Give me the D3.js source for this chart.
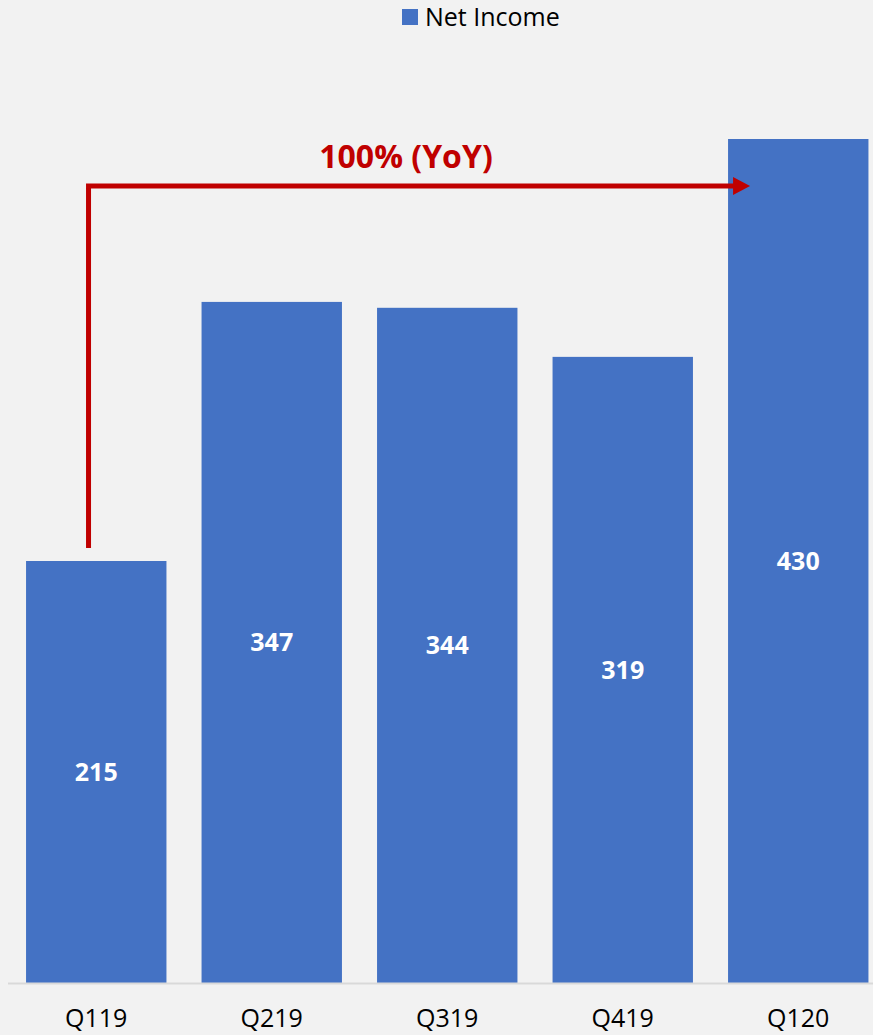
<!DOCTYPE html>
<html>
<head>
<meta charset="utf-8">
<script src="https://cdn.jsdelivr.net/npm/d3@7"></script>
<style>
  html, body { margin: 0; padding: 0; background: #f2f2f2; }
  svg { display: block; font-family: "Open Sans", sans-serif; }
</style>
</head>
<body>
<svg id="svg"></svg>
<script>
// quarters and net income values
const quarters = ["Q119", "Q219", "Q319", "Q419", "Q120"];
const netIncome = [215, 347, 344, 319, 430];
const seriesName = "Net Income";
const growthLabel = "100% (YoY)";

const size = { width: 873, height: 1035 };
const svg = d3.select("#svg").attr("width", size.width).attr("height", size.height);

const baseY = 983;
const x = d3.scaleBand()
    .domain(quarters)
    .range([8.5, 886])
    .paddingInner(0.2)
    .paddingOuter(0.1);
const y = d3.scaleLinear()
    .domain([0, 430])
    .range([baseY, 139]);

const blue = "#4472c4";
const red = "#c00000";

svg.append("rect")
    .attr("width", size.width)
    .attr("height", size.height)
    .attr("fill", "#f2f2f2");

// bars
svg.selectAll("rect.bar")
    .data(netIncome)
    .join("rect")
    .attr("class", "bar")
    .attr("x", (d, i) => x(quarters[i]))
    .attr("y", d => y(d))
    .attr("width", x.bandwidth())
    .attr("height", d => baseY - y(d))
    .attr("fill", blue);

// value labels
svg.selectAll("text.val")
    .data(netIncome)
    .join("text")
    .attr("class", "val")
    .attr("x", (d, i) => x(quarters[i]) + x.bandwidth() / 2)
    .attr("y", d => (y(d) + baseY) / 2 + 9)
    .attr("text-anchor", "middle")
    .attr("font-size", 25)
    .attr("font-weight", "bold")
    .attr("fill", "#ffffff")
    .text(d => d);

// x axis
const axis = svg.append("g")
    .attr("transform", `translate(0,${baseY})`)
    .call(d3.axisBottom(x).tickSize(0).tickPadding(26));
axis.select(".domain")
    .attr("d", `M8,0.5H873`)
    .attr("stroke", "#d9d9d9")
    .attr("stroke-width", 2);
axis.selectAll("text")
    .attr("font-family", "Open Sans, sans-serif")
    .attr("font-size", 25)
    .attr("fill", "#000");

// legend
const legend = svg.append("g").attr("transform", "translate(402,9)");
legend.append("rect").attr("width", 16).attr("height", 16).attr("fill", blue);
legend.append("text")
    .attr("x", 23)
    .attr("y", 17)
    .attr("font-size", 25)
    .attr("fill", "#000")
    .text(seriesName);

// growth arrow from Q119 to Q120
const first = quarters[0];
const last = quarters[quarters.length - 1];
const ax = x(first) + x.bandwidth() * 0.445;
const ayBottom = y(netIncome[0]) - 13;
const ayTop = y(406);
const tipX = x(last) + 22;

svg.append("path")
    .attr("d", `M${ax},${ayBottom}V${ayTop}H${tipX - 16}`)
    .attr("fill", "none")
    .attr("stroke", red)
    .attr("stroke-width", 5)
    .attr("stroke-linejoin", "miter");
svg.append("path")
    .attr("d", `M${tipX - 17},${ayTop - 9}L${tipX},${ayTop}L${tipX - 17},${ayTop + 9}Z`)
    .attr("fill", red);

svg.append("text")
    .attr("x", 406)
    .attr("y", 168)
    .attr("text-anchor", "middle")
    .attr("font-size", 32)
    .attr("font-weight", "bold")
    .attr("fill", red)
    .text(growthLabel);
</script>
</body>
</html>
